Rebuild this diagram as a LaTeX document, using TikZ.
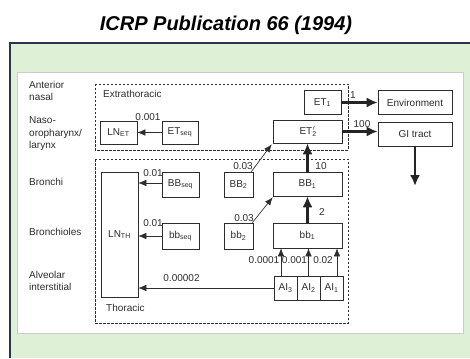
\documentclass[tikz,border=0pt]{standalone}
\usepackage{fontspec}
\setmainfont{Liberation Sans}
\usetikzlibrary{arrows.meta}
\definecolor{panelgreen}{RGB}{222,240,214}
\definecolor{navyline}{RGB}{42,52,82}
\definecolor{inkgray}{RGB}{45,45,45}
\begin{document}
\begin{tikzpicture}[x=1pt,y=-1pt,
  box/.style={draw=inkgray, line width=0.6pt, inner sep=0pt, text=inkgray, font=\fontsize{10}{12}\selectfont},
  lbl/.style={font=\fontsize{10}{12}\selectfont, inner sep=0pt, text=inkgray},
  side/.style={font=\fontsize{10}{12.5}\selectfont, align=left, anchor=west, inner sep=0pt, text=inkgray},
  thinarr/.style={-{Latex[length=8pt,width=6.5pt]}, line width=0.6pt, draw=inkgray, fill=inkgray},
  thickarr/.style={-{Latex[length=11pt,width=10pt]}, line width=2.2pt, draw=inkgray!80!black},
  region/.style={dash pattern=on 2.5pt off 1.5pt, line width=0.8pt, draw=inkgray}]
\useasboundingbox (0,0) rectangle (470,358);
% background
\fill[panelgreen] (10,43) rectangle (470,358);
\draw[navyline, line width=2pt] (10,358) -- (10,43) -- (470,43);
\draw[fill=white, draw=black!20, line width=0.6pt] (17,72) rectangle (463,333);
\node[font=\fontsize{20}{24}\selectfont\bfseries\itshape, inner sep=0pt] (title) at (226,25) {ICRP Publication 66 (1994)};
% regions
\draw[region] (95,84) rectangle (348,150);
\draw[region] (95,159) rectangle (348,323);
\node[lbl, anchor=west] (extra) at (103,94) {Extrathoracic};
\node[lbl, anchor=west] (thor) at (106,308) {Thoracic};
% side labels
\node[side] (s1) at (29,91) {Anterior\\nasal};
\node[side] (s2) at (29,134) {Naso-\\oropharynx/\\larynx};
\node[side] (s3) at (29,182) {Bronchi};
\node[side] (s4) at (29,232) {Bronchioles};
\node[side] (s5) at (29,281) {Alveolar\\interstitial};
% boxes
\node[box, minimum width=37pt, minimum height=23pt] (LNET) at (118.5,132.5) {LN\textsubscript{ET}};
\node[box, minimum width=36pt, minimum height=23pt] (ETseq) at (180,132.5) {ET\textsubscript{seq}};
\node[box, minimum width=37pt, minimum height=24pt] (ET1) at (322.5,102.5) {ET\textsubscript{1}};
\node[box, minimum width=74pt, minimum height=24pt] (Env) at (415,102.5) {Environment};
\node[box, minimum width=69pt, minimum height=23pt] (ET2) at (307.5,131.5) {ET\textsubscript{2}\hspace{-4pt}\textsuperscript{$\prime$}};
\node[box, minimum width=74pt, minimum height=24pt] (GI) at (415,134) {GI tract};
\node[box, minimum width=37pt, minimum height=125pt] (LNTH) at (119.5,234.5) {LN\textsubscript{TH}};
\node[box, minimum width=37pt, minimum height=25pt] (BBseq) at (180.5,184.5) {BB\textsubscript{seq}};
\node[box, minimum width=37pt, minimum height=26pt] (bbseq) at (180.5,236) {bb\textsubscript{seq}};
\node[box, minimum width=29pt, minimum height=25pt] (BB2) at (238.5,184.5) {BB\textsubscript{2}};
\node[box, minimum width=29pt, minimum height=26pt] (bb2) at (238.5,236) {bb\textsubscript{2}};
\node[box, minimum width=69pt, minimum height=24pt] (BB1) at (307.5,184) {BB\textsubscript{1}};
\node[box, minimum width=69pt, minimum height=25pt] (bb1) at (307.5,235.5) {bb\textsubscript{1}};
\node[box, minimum width=23pt, minimum height=24pt] (AI3) at (285.5,288) {AI\textsubscript{3}};
\node[box, minimum width=23pt, minimum height=24pt] (AI2) at (308.5,288) {AI\textsubscript{2}};
\node[box, minimum width=23pt, minimum height=24pt] (AI1) at (331.5,288) {AI\textsubscript{1}};
\coordinate (giend) at (415,186);
% connectors
\draw[thinarr] (ETseq) -- (LNET);
\draw[thickarr] (ET1) -- (Env);
\draw[thickarr] (ET2.east) -- (ET2.east -| GI.west);
\draw[thickarr] (GI.south) -- (giend);
\draw[thickarr] (BB1.north) -- (ET2.south);
\draw[thickarr] (bb1.north) -- (BB1.south);
\draw[thinarr] ([xshift=-2pt]BB2.north east) -- ([xshift=-1pt,yshift=-1pt]ET2.south west);
\draw[thinarr] ([xshift=-1pt]bb2.north east) -- ([yshift=-1pt]BB1.south west);
\draw[thinarr] ([yshift=1.5pt]BBseq.west) -- ([yshift=1.5pt]BBseq.west -| LNTH.east);
\draw[thinarr] (bbseq.west) -- (bbseq.west -| LNTH.east);
\draw[thinarr] (AI3.west) -- (AI3.west -| LNTH.east);
\draw[thinarr] ([xshift=-4.5pt]AI3.north) -- ([xshift=-4.5pt]AI3.north |- bb1.south);
\draw[thinarr] (AI2.north) -- (AI2.north |- bb1.south);
\draw[thinarr] ([xshift=5.5pt]AI1.north) -- ([xshift=5.5pt]AI1.north |- bb1.south);
% rate labels
\node[lbl] (r1) at (148,117) {0.001};
\node[lbl] (r2) at (353,95) {1};
\node[lbl] (r3) at (362,124) {100};
\node[lbl] (r4) at (321,166) {10};
\node[lbl] (r5) at (322,212) {2};
\node[lbl] (r6) at (243,166) {0.03};
\node[lbl] (r7) at (244,218) {0.03};
\node[lbl] (r8) at (153,173) {0.01};
\node[lbl] (r9) at (153,223) {0.01};
\node[lbl] (r10) at (181.5,278) {0.00002};
\node[lbl] (r11) at (264,260) {0.0001};
\node[lbl] (r12) at (294.5,260) {0.001};
\node[lbl] (r13) at (323,260) {0.02};
\end{tikzpicture}
\end{document}
